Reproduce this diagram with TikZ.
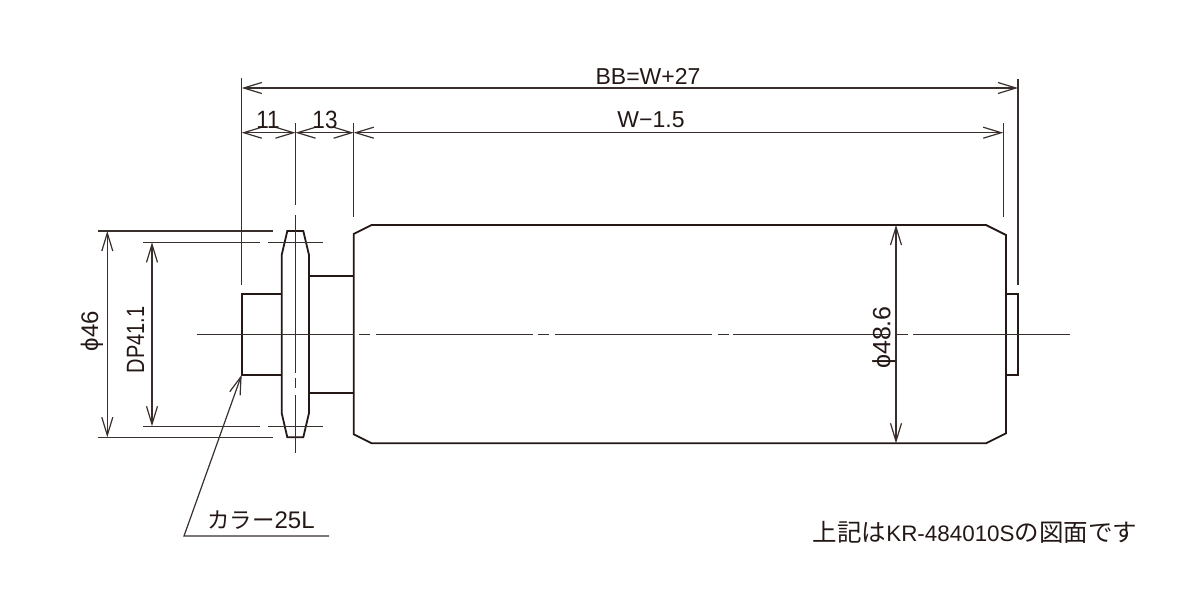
\documentclass[tikz,border=0pt]{standalone}
\usepackage{fontspec}
\setmainfont{Liberation Sans}
\newfontfamily\cjk{Noto Sans CJK JP}
\usetikzlibrary{arrows.meta}
\definecolor{inkk}{HTML}{231815}
\tikzset{
  outline/.style={draw=inkk,line width=0.9pt,line join=miter},
  dimline/.style={draw=inkk!90,line width=0.6pt},
  barbs/.style={{Straight Barb[length=9pt,width=5.5pt]}-{Straight Barb[length=9pt,width=5.5pt]}},
  label/.style={text=inkk,inner sep=0pt,font=\fontsize{11.5}{12}\selectfont},
  vlabel/.style={label,rotate=90}
}
\begin{document}
\begin{tikzpicture}[x=0.5pt,y=-0.5pt]
  \useasboundingbox (0,0) rectangle (1200,600);
  % anchor points
  \coordinate (bbL) at (241.7,88);
  \coordinate (bbR) at (1018,88);
  \coordinate (hubL) at (241.7,132.7);
  \coordinate (hubR) at (295.5,132.7);
  \coordinate (bodyL) at (353.7,132.7);
  \coordinate (bodyR) at (1003.3,132.7);
  \coordinate (odT) at (107.3,231);
  \coordinate (odB) at (107.3,437.3);
  \coordinate (dpT) at (152,242.3);
  \coordinate (dpB) at (152,426.3);
  \coordinate (rlT) at (896,225);
  \coordinate (rlB) at (896,443.3);
  \coordinate (tagTip) at (241.7,374.7);
  \coordinate (tagL) at (184,536);
  \coordinate (tagR) at (329,536);
  % roller, sprocket, collar
  \draw[outline] (371.7,225) -- (986,225) -- (1006,235) -- (1006,433.3) -- (986,443.3)
    -- (371.7,443.3) -- (353.7,434.3) -- (353.7,234) -- cycle;
  \draw[outline] (287.3,231) -- (303.3,231) -- (309,255) -- (309,413) -- (303.3,437.3)
    -- (287.3,437.3) -- (281.7,413) -- (281.7,255) -- cycle;
  \draw[outline] (281.7,294.3) -- (241.7,294.3) -- (241.7,374.7) -- (281.7,374.7);
  \draw[outline] (309,276) -- (353.7,276);
  \draw[outline] (309,392.7) -- (353.7,392.7);
  \draw[outline] (1006,294) -- (1018,294) -- (1018,374.7) -- (1006,374.7);
  % centre lines
  \foreach \a/\b in {196.7/353.7,359.3/370,376/533,538/549,555/712,718/729,733/890,897/908,913/1070}
    \draw[dimline,line width=0.7pt] (\a,334.7) -- (\b,334.7);
  \foreach \a/\b in {123/205,215/373,378/388,395/453}
    \draw[dimline,line width=0.7pt] (295.5,\a) -- (295.5,\b);
  % extension lines
  \draw[dimline] (241.7,78) -- (241.7,285);
  \draw[dimline] (353.7,123) -- (353.7,216.7);
  \draw[dimline] (1003.3,123) -- (1003.3,216.7);
  \draw[dimline] (1018,79) -- (1018,285);
  \draw[dimline] (98,231) -- (273,231);
  \draw[dimline] (98,437.3) -- (273,437.3);
  \draw[dimline] (143,242.3) -- (260,242.3);
  \draw[dimline] (268,242.3) -- (323,242.3);
  \draw[dimline] (143,426.3) -- (260,426.3);
  \draw[dimline] (268,426.3) -- (323,426.3);
  % dimensions
  \draw[dimline,barbs] (bbL) -- (bbR);
  \draw[dimline,barbs] (hubL) -- (hubR);
  \draw[dimline,barbs] (hubR) -- (bodyL);
  \draw[dimline,barbs] (bodyL) -- (bodyR);
  \draw[dimline,barbs] (odT) -- (odB);
  \draw[dimline,barbs] (dpT) -- (dpB);
  \draw[dimline,barbs] (rlT) -- (rlB);
  \draw[dimline,{Straight Barb[length=9pt,width=5.5pt]}-] (tagTip) -- (tagL) -- (tagR);
  % labels
  \node[label] (bbText) at (648,76.5) {BB=W+27};
  \node[label] (wText) at (651,120) {W−1.5};
  \node[label,font=\fontsize{12.5}{13}\selectfont,xscale=.9] (hubText) at (268,120) {11};
  \node[label,font=\fontsize{12.5}{13}\selectfont,xscale=.9] (gapText) at (325,120) {13};
  \node[vlabel,font=\fontsize{12}{13}\selectfont] (odText) at (92,331) {ϕ46};
  \node[vlabel,font=\fontsize{12.5}{13}\selectfont,xscale=.8] (dpText) at (135.5,340) {DP41.1};
  \node[vlabel,font=\fontsize{12.5}{13}\selectfont] (rlText) at (884,337.5) {ϕ48.6};
  \node[label,font=\fontsize{12}{13}\selectfont] (tagText) at (261,520) {{\cjk\fontsize{11.2}{13}\selectfont カラー}25L};
  \node[label] (noteText) at (975,532) {{\cjk\fontsize{12.25}{13}\selectfont 上記は}{\fontsize{11.2}{13}\selectfont KR-484010S}{\cjk\fontsize{12.25}{13}\selectfont の図面です}};
\end{tikzpicture}
\end{document}
